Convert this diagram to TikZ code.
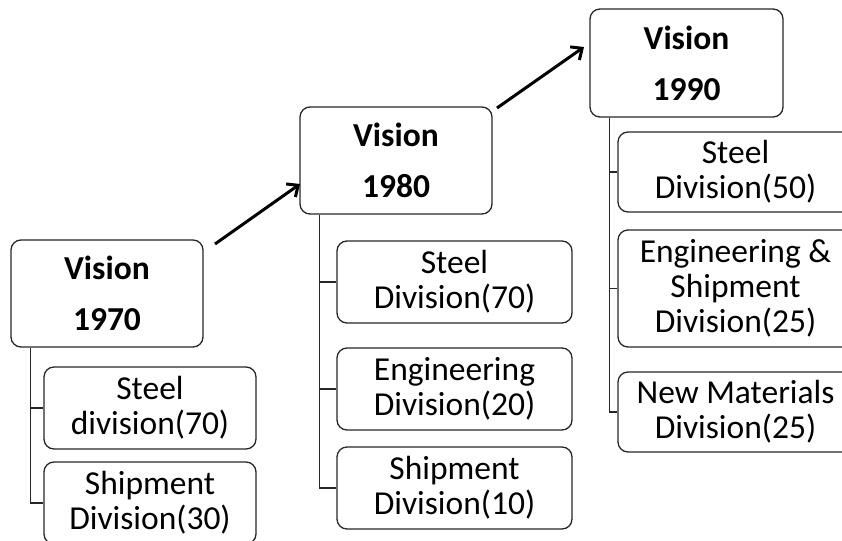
\documentclass[tikz,border=0pt]{standalone}
\usepackage{fontspec}
\setmainfont{Carlito}
\usetikzlibrary{arrows.meta,calc}

\tikzset{
  box/.style={draw=black!85, line width=1.3pt, rounded corners=10pt,
    align=center, inner sep=0pt, text=black,
    font=\fontsize{33.5}{35}\selectfont},
  visionbox/.style={box, minimum width=192pt, minimum height=107pt,
    font=\fontsize{33.5}{35}\selectfont\bfseries},
  divbox/.style={box, minimum height=82pt},
  link/.style={draw=black!85, line width=1.2pt},
  trend/.style={line width=3pt, -{Straight Barb[length=9pt,width=16pt,line width=3pt]}}
}

\begin{document}
\begin{tikzpicture}[x=1pt,y=-1pt]
  \useasboundingbox (0,0) rectangle (842,540);
  \clip (0,0) rectangle (842,540);

  % 1970
  \node[visionbox] (v70) at (107,293.5) {Vision\\[16pt]1970};
  \node[divbox, minimum width=212pt] (s70) at (150,408) {Steel\\division(70)};
  \node[divbox, minimum width=212pt] (sh70) at (150,503) {Shipment\\Division(30)};

  % 1980
  \node[visionbox] (v80) at (396,160.5) {Vision\\[16pt]1980};
  \node[divbox, minimum width=235pt] (s80) at (454.5,282) {Steel\\Division(70)};
  \node[divbox, minimum width=235pt] (e80) at (454.5,389) {Engineering\\Division(20)};
  \node[divbox, minimum width=235pt] (sh80) at (454.5,488) {Shipment\\Division(10)};

  % 1990
  \node[visionbox, minimum width=193pt, minimum height=108pt] (v90) at (686.5,63) {Vision\\[16pt]1990};
  \node[divbox, minimum width=235pt, minimum height=80pt] (s90) at (735.5,172) {Steel\\Division(50)};
  \node[divbox, minimum width=235pt, minimum height=117pt] (es90) at (735.5,288.5) {Engineering \&\\Shipment\\Division(25)};
  \node[divbox, minimum width=235pt, minimum height=80pt] (n90) at (735.5,412) {New Materials\\Division(25)};

  % tree links from each vision to its divisions
  \foreach \p/\c in {v70/s70, v70/sh70, v80/s80, v80/e80, v80/sh80, v90/s90, v90/es90, v90/n90}
    \draw[link] ($(\p.south west)+(20,0)$) |- (\c.west);

  % progression arrows between visions
  \coordinate (a1s) at (215,244);
  \coordinate (a1e) at (300,184);
  \coordinate (a2s) at (497,108);
  \coordinate (a2e) at (584,47);
  \draw[trend] (a1s) -- (a1e);
  \draw[trend] (a2s) -- (a2e);
\end{tikzpicture}
\end{document}
